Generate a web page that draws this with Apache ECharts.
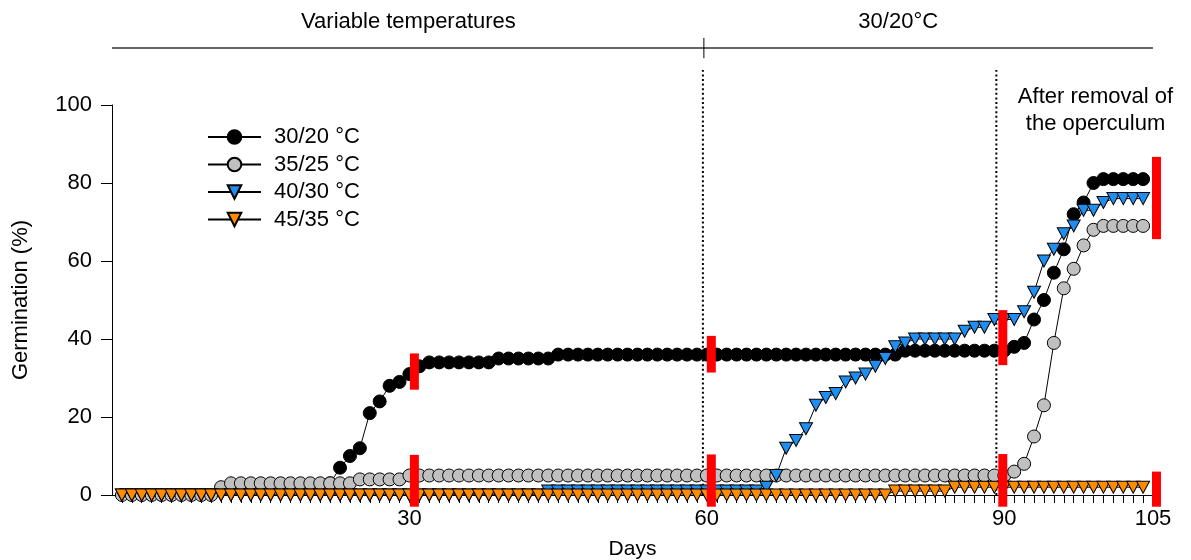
<!DOCTYPE html>
<html>
<head>
<meta charset="utf-8">
<script src="https://cdn.jsdelivr.net/npm/echarts@6/dist/echarts.min.js"></script>
<style>
  html, body { margin: 0; padding: 0; background: #ffffff; }
  #chart { width: 1191px; height: 560px; }
</style>
</head>
<body>
<div id="chart"></div>
<script>
// Days of incubation (one reading per day)
const days = Array.from({ length: 104 }, (_, i) => i + 1);

// Cumulative germination (%) per day for each temperature regime
// (null: no reading recorded for that day)
const germ3020 = [
  null,null,null,null,null,null,null,null,null,null,
  null,null,null,null,null,null,null,null,null,null,
  null,
  3,7,10,12,21,24,28,29,31,
  33,
  34,34,34,34,34,34,34,
  35,35,35,35,35,35,
  36,36,36,36,36,36,36,36,36,36, 36,36,36,36,36,36,36,36,36,36,
  36,36,36,36,36,36,36,36,36,36, 36,36,36,36,36,
  37,37,37,37,37,37,37,37,37,37,37,
  38,39,45,50,57,63,72,75,80,
  81,81,81,81,81
];
const germ3525 = [
  0,0,0,0,0,0,0,0,0,0,
  2, 3,3,3,3,3,3,3,3,3,3,3,3,3,
  4,4,4,4,4,
  5,5,5,5,5,5,5,5,5,5, 5,5,5,5,5,5,5,5,5,5,
  5,5,5,5,5,5,5,5,5,5, 5,5,5,5,5,5,5,5,5,5,
  5,5,5,5,5,5,5,5,5,5, 5,5,5,5,5,5,5,5,5,5,
  5,
  6,8,15,23,39,53,58,64,68,
  69,69,69,69,69
];
const germ4030 = [
  0,0,0,0,0,0,0,0,0,0, 0,0,0,0,0,0,0,0,0,0,
  0,0,0,0,0,0,0,0,0,0, 0,0,0,0,0,0,0,0,0,0, 0,0,0,
  1,1,1,1,1,1,1,1,1,1, 1,1,1,1,1,1,1,1,1,1, 1,1,
  2, 5,12,14,17,23,25,26,29,30,31,33,35,38,39,
  40,40,40,40,40,
  42,43,43,45,45,45,47,52,60,63,67,69,73,73,75,
  76,76,76,76
];
const germ4535 = [
  0,0,0,0,0,0,0,0,0,0, 0,0,0,0,0,0,0,0,0,0,
  0,0,0,0,0,0,0,0,0,0, 0,0,0,0,0,0,0,0,0,0,
  0,0,0,0,0,0,0,0,0,0, 0,0,0,0,0,0,0,0,0,0,
  0,0,0,0,0,0,0,0,0,0, 0,0,0,0,0,0,0,0,
  1,1,1,1,1,1,
  2,2,2,2,2,2,2,2,2,2, 2,2,2,2,2,2,2,2,2,2
];

const seriesNames = ['30/20 °C', '35/25 °C', '40/30 °C', '45/35 °C'];
const xTickLabels = [30, 60, 90, 105];

// Red period markers: [day, low %, high %]
const periodMarkers = [
  [30.5, 27, 36.3], [30.5, -3, 10.3],
  [60.45, 31.4, 40.8], [60.45, -3, 10.4],
  [89.85, 33.3, 47.4], [89.85, -3, 10.5],
  [105.35, 65.6, 86.7], [105.35, -3, 6]
];
// Dotted phase boundaries: [day, from %, to %]
const phaseLines = [[59.6, 0, 109], [89.2, 0, 109]];

const FONT = 'Liberation Sans, Arial, sans-serif';
const FS = 22;
const chart = echarts.init(document.getElementById('chart'), null, { renderer: 'canvas' });

function lineSeries(name, values, fill, symbol, size, rotate) {
  return {
    name: name,
    type: 'line',
    data: days.map((d, i) => [d, values[i]]),
    symbol: symbol,
    symbolSize: size,
    symbolRotate: rotate,
    showSymbol: true,
    connectNulls: false,
    lineStyle: { color: '#000', width: 1 },
    itemStyle: { color: fill, borderColor: '#000', borderWidth: 1 },
    emphasis: { disabled: true },
    z: 3
  };
}

chart.setOption({
  animation: false,
  textStyle: { fontFamily: FONT },
  grid: { left: 112, right: 38, top: 105, bottom: 65, containLabel: false, outerBoundsMode: 'none' },
  legend: {
    orient: 'vertical',
    left: 207,
    top: 126,
    itemWidth: 53,
    itemHeight: 17,
    itemGap: 5.5,
    padding: 0,
    textStyle: { fontSize: FS, color: '#000', fontFamily: FONT, padding: [0, 0, 0, 8] },
    data: seriesNames
  },
  xAxis: {
    type: 'value',
    min: 0,
    max: 105,
    name: 'Days',
    nameLocation: 'middle',
    nameGap: 44,
    nameTextStyle: { fontSize: 21, color: '#000', fontFamily: FONT },
    axisLine: { show: true, onZero: false, lineStyle: { color: '#000', width: 1 } },
    axisTick: { show: true, length: 8, customValues: days, lineStyle: { color: '#000', width: 1 } },
    axisLabel: { customValues: xTickLabels, fontSize: FS, color: '#000', margin: 13, fontFamily: FONT },
    splitLine: { show: false }
  },
  yAxis: {
    type: 'value',
    min: 0,
    max: 100,
    interval: 20,
    name: 'Germination (%)',
    nameLocation: 'middle',
    nameGap: 80,
    nameTextStyle: { fontSize: FS, color: '#000', fontFamily: FONT },
    axisLine: { show: true, lineStyle: { color: '#000', width: 1 } },
    axisTick: { show: true, length: 11, lineStyle: { color: '#000', width: 1 } },
    axisLabel: { fontSize: FS, color: '#000', margin: 20, fontFamily: FONT },
    splitLine: { show: false }
  },
  series: [
    {
      type: 'custom',
      name: 'phases',
      data: phaseLines,
      encode: { x: 0, y: [1, 2] },
      z: 1,
      renderItem: function (params, api) {
        const a = api.coord([api.value(0), api.value(1)]);
        const b = api.coord([api.value(0), api.value(2)]);
        return {
          type: 'line',
          shape: { x1: a[0], y1: a[1], x2: b[0], y2: b[1] },
          style: { stroke: '#000', lineWidth: 2, lineDash: [2, 2.6] }
        };
      }
    },
    lineSeries(seriesNames[0], germ3020, '#000000', 'circle', 13, 0),
    lineSeries(seriesNames[1], germ3525, '#c0c0c0', 'circle', 13, 0),
    lineSeries(seriesNames[2], germ4030, '#1e8ff0', 'triangle', [13, 12], 180),
    lineSeries(seriesNames[3], germ4535, '#ff8c00', 'triangle', [13, 12], 180),
    {
      type: 'custom',
      name: 'markers',
      data: periodMarkers,
      encode: { x: 0, y: [1, 2] },
      z: 10,
      renderItem: function (params, api) {
        const top = api.coord([api.value(0), api.value(2)]);
        const bot = api.coord([api.value(0), api.value(1)]);
        return {
          type: 'rect',
          shape: { x: top[0] - 4.5, y: top[1], width: 9, height: bot[1] - top[1] },
          style: { fill: '#ff0000' }
        };
      }
    }
  ]
});

// Header bracket and annotations placed in data coordinates
const px = (x, y) => chart.convertToPixel({ gridIndex: 0 }, [x, y]);
const lineL = px(0, 114.6), lineR = px(105, 114.6);
const tickTop = px(59.7, 117.2), tickBot = px(59.7, 112);
const txtVar = px(29.9, 121.3), txtPost = px(79.3, 121.3);
const txtOp1 = px(99.2, 102), txtOp2 = px(99.2, 95.1);

function label(p, text) {
  return {
    type: 'text', x: p[0], y: p[1],
    style: { text: text, fontSize: FS, fontFamily: FONT, fill: '#000', align: 'center', verticalAlign: 'middle' }
  };
}

chart.setOption({
  graphic: [
    { type: 'line', shape: { x1: lineL[0], y1: lineL[1], x2: lineR[0], y2: lineR[1] }, style: { stroke: '#333', lineWidth: 1.5 } },
    { type: 'line', shape: { x1: tickTop[0], y1: tickTop[1], x2: tickBot[0], y2: tickBot[1] }, style: { stroke: '#000', lineWidth: 1 } },
    label(txtVar, 'Variable temperatures'),
    label(txtPost, '30/20°C'),
    label(txtOp1, 'After removal of'),
    label(txtOp2, 'the operculum')
  ]
});
</script>
</body>
</html>
